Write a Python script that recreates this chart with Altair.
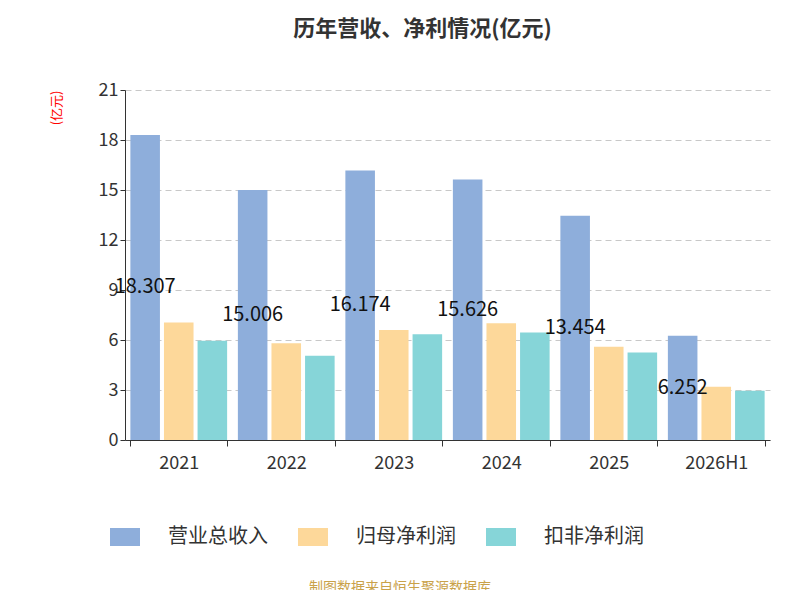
import altair as alt
import pandas as pd

years = ["2021", "2022", "2023", "2024", "2025", "2026H1"]
revenue = [18.307, 15.006, 16.174, 15.626, 13.454, 6.252]
net_profit = [7.05, 5.8, 6.6, 7.0, 5.6, 3.2]
deducted_profit = [5.95, 5.05, 6.35, 6.45, 5.25, 2.95]
series = ["营业总收入", "归母净利润", "扣非净利润"]
colors = ["#8eaedb", "#fdd89a", "#86d5d8"]

rows = []
for i, y in enumerate(years):
    for s, vals in zip(series, [revenue, net_profit, deducted_profit]):
        rows.append({"year": y, "series": s, "value": vals[i]})
df = pd.DataFrame(rows)
lab = pd.DataFrame({"year": years, "series": series[0], "value": revenue,
                    "half": [v / 2 for v in revenue],
                    "label": [f"{v:.3f}" for v in revenue]})

FONT = "Noto Sans CJK SC"
x = alt.X("year:N", sort=years, title=None,
          scale=alt.Scale(paddingInner=0.1, paddingOuter=0.05),
          axis=alt.Axis(labelAngle=0, labelFontSize=18, labelColor="#333", domainColor="#333",
                        tickColor="#333", tickBand="extent", tickSize=6, labelPadding=8, labelFont=FONT))
xo = alt.XOffset("series:N", sort=series, scale=alt.Scale(paddingInner=0.12))

bars = alt.Chart(df).mark_bar().encode(
    x=x, xOffset=xo,
    y=alt.Y("value:Q", scale=alt.Scale(domain=[0, 21], nice=False),
            axis=alt.Axis(values=[0, 3, 6, 9, 12, 15, 18, 21], title="(亿元)", titleColor="red",
                          titleFontSize=13, titleFontWeight="normal", titleAngle=-90, titleAlign="right",
                          titleBaseline="bottom", titleAnchor="end", titleX=-62, titleY=0,
                          labelFontSize=18, labelColor="#333", domainColor="#333", tickColor="#333",
                          gridDash=[6, 4], gridColor="#c8c8c8", labelFont=FONT, titleFont=FONT)),
    color=alt.Color("series:N", sort=series, scale=alt.Scale(domain=series, range=colors),
                    legend=alt.Legend(orient="none", legendX=-15, legendY=432, direction="horizontal",
                                      title=None, symbolType="M-1,-0.6 L1,-0.6 L1,0.6 L-1,0.6 Z",
                                      symbolSize=900, symbolStrokeWidth=0, symbolOpacity=1,
                                      labelFontSize=20, labelFont=FONT, labelColor="#333",
                                      columnPadding=30, labelOffset=28)),
)

text = alt.Chart(lab).mark_text(fontSize=20, color="#111", font=FONT).encode(
    x=x, xOffset=xo, y=alt.Y("half:Q"), text="label:N")

src = alt.Chart(pd.DataFrame({"t": ["制图数据来自恒生聚源数据库"]})).mark_text(
    fontSize=14, color="#c9a24a", font=FONT).encode(
    x=alt.value(275), y=alt.value(498), text="t:N")

chart = alt.layer(bars, text, src).properties(
    width=645, height=350, autosize=alt.AutoSizeParams(type="none"),
    padding={"left": 117, "top": 82, "right": 20, "bottom": 150},
    title=alt.Title("历年营收、净利情况(亿元)", fontSize=22, font=FONT, fontWeight="bold",
                    color="#333", anchor="middle", offset=40, dx=-25),
).configure_view(stroke=None)

chart.save("out.html", embed_options={"renderer": "svg", "actions": False})
